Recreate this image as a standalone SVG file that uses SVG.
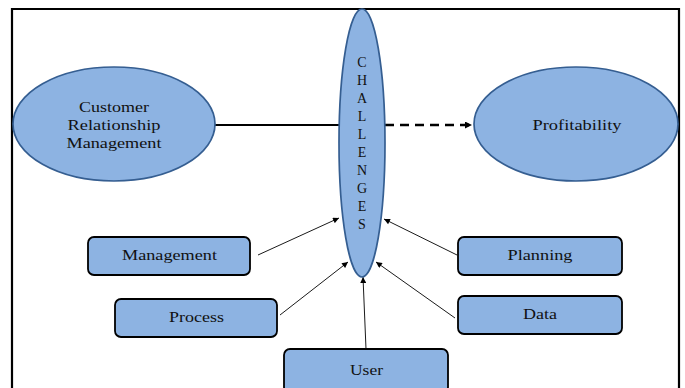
<svg xmlns="http://www.w3.org/2000/svg" width="685" height="388" viewBox="0 0 685 388">
  <defs>
    <marker id="tip" viewBox="0 0 10 10" refX="10" refY="5" markerWidth="7" markerHeight="6" markerUnits="userSpaceOnUse" orient="auto">
      <path d="M0,0 L10,5 L0,10 z" fill="#000"/>
    </marker>
    <marker id="tipBold" viewBox="0 0 10 10" refX="10" refY="5" markerWidth="8" markerHeight="7" markerUnits="userSpaceOnUse" orient="auto">
      <path d="M0,0 L10,5 L0,10 z" fill="#000"/>
    </marker>
  </defs>
  <style>
    .oval { fill: #8db3e2; stroke: #355e91; stroke-width: 1.7; }
    .box { fill: #8db3e2; stroke: #000; stroke-width: 1.8; }
    .lbl { font-family: "Liberation Serif", "Times New Roman", serif; font-size: 14px; fill: #111; text-anchor: middle; }
    .ltr { font-size: 14px; }
    .thin { stroke: #000; stroke-width: 0.9; fill: none; marker-end: url(#tip); }
  </style>

  <rect width="685" height="388" fill="#fff"/>
  <!-- outer frame, open at the bottom edge -->
  <path d="M12,392 L12,9 L679,9 L679,392" fill="none" stroke="#000" stroke-width="2.2"/>

  <g id="connectors">
    <line x1="215" y1="125" x2="340" y2="125" stroke="#000" stroke-width="2.2"/>
    <line x1="385" y1="125" x2="472" y2="125" stroke="#000" stroke-width="2.6" stroke-dasharray="9 6" marker-end="url(#tipBold)"/>
    <line class="thin" x1="258" y1="255" x2="339" y2="218"/>
    <line class="thin" x1="280" y1="315" x2="348" y2="262"/>
    <line class="thin" x1="366" y1="349" x2="363" y2="277"/>
    <line class="thin" x1="455" y1="318" x2="376" y2="262"/>
    <line class="thin" x1="457" y1="255" x2="384" y2="219"/>
  </g>

  <g id="crm">
    <ellipse class="oval" cx="114" cy="124" rx="101" ry="57"/>
    <text class="lbl" x="114" y="112" textLength="70" lengthAdjust="spacingAndGlyphs">Customer</text>
    <text class="lbl" x="114" y="130" textLength="93" lengthAdjust="spacingAndGlyphs">Relationship</text>
    <text class="lbl" x="114" y="148" textLength="95" lengthAdjust="spacingAndGlyphs">Management</text>
  </g>

  <g id="profitability">
    <ellipse class="oval" cx="576" cy="124" rx="102" ry="57"/>
    <text class="lbl" x="577" y="130" textLength="89" lengthAdjust="spacingAndGlyphs">Profitability</text>
  </g>

  <g id="challenges">
    <ellipse class="oval" cx="362" cy="143" rx="23" ry="134"/>
    <text class="lbl ltr" x="362" y="67">C</text>
    <text class="lbl ltr" x="362" y="85">H</text>
    <text class="lbl ltr" x="362" y="103">A</text>
    <text class="lbl ltr" x="362" y="121">L</text>
    <text class="lbl ltr" x="362" y="139">L</text>
    <text class="lbl ltr" x="362" y="157">E</text>
    <text class="lbl ltr" x="362" y="175">N</text>
    <text class="lbl ltr" x="362" y="193">G</text>
    <text class="lbl ltr" x="362" y="211">E</text>
    <text class="lbl ltr" x="362" y="229">S</text>
  </g>

  <g id="management">
    <rect class="box" x="88" y="237" width="162" height="38" rx="6"/>
    <text class="lbl" x="169.5" y="260" textLength="95" lengthAdjust="spacingAndGlyphs">Management</text>
  </g>

  <g id="process">
    <rect class="box" x="115" y="299" width="162" height="38" rx="6"/>
    <text class="lbl" x="196.5" y="322" textLength="55" lengthAdjust="spacingAndGlyphs">Process</text>
  </g>

  <g id="user">
    <rect class="box" x="284" y="349" width="164" height="44" rx="6"/>
    <text class="lbl" x="366.5" y="375" textLength="33" lengthAdjust="spacingAndGlyphs">User</text>
  </g>

  <g id="planning">
    <rect class="box" x="458" y="237" width="164" height="38" rx="6"/>
    <text class="lbl" x="540" y="260" textLength="65" lengthAdjust="spacingAndGlyphs">Planning</text>
  </g>

  <g id="data">
    <rect class="box" x="458" y="296" width="164" height="38" rx="6"/>
    <text class="lbl" x="540" y="319" textLength="34" lengthAdjust="spacingAndGlyphs">Data</text>
  </g>
</svg>
